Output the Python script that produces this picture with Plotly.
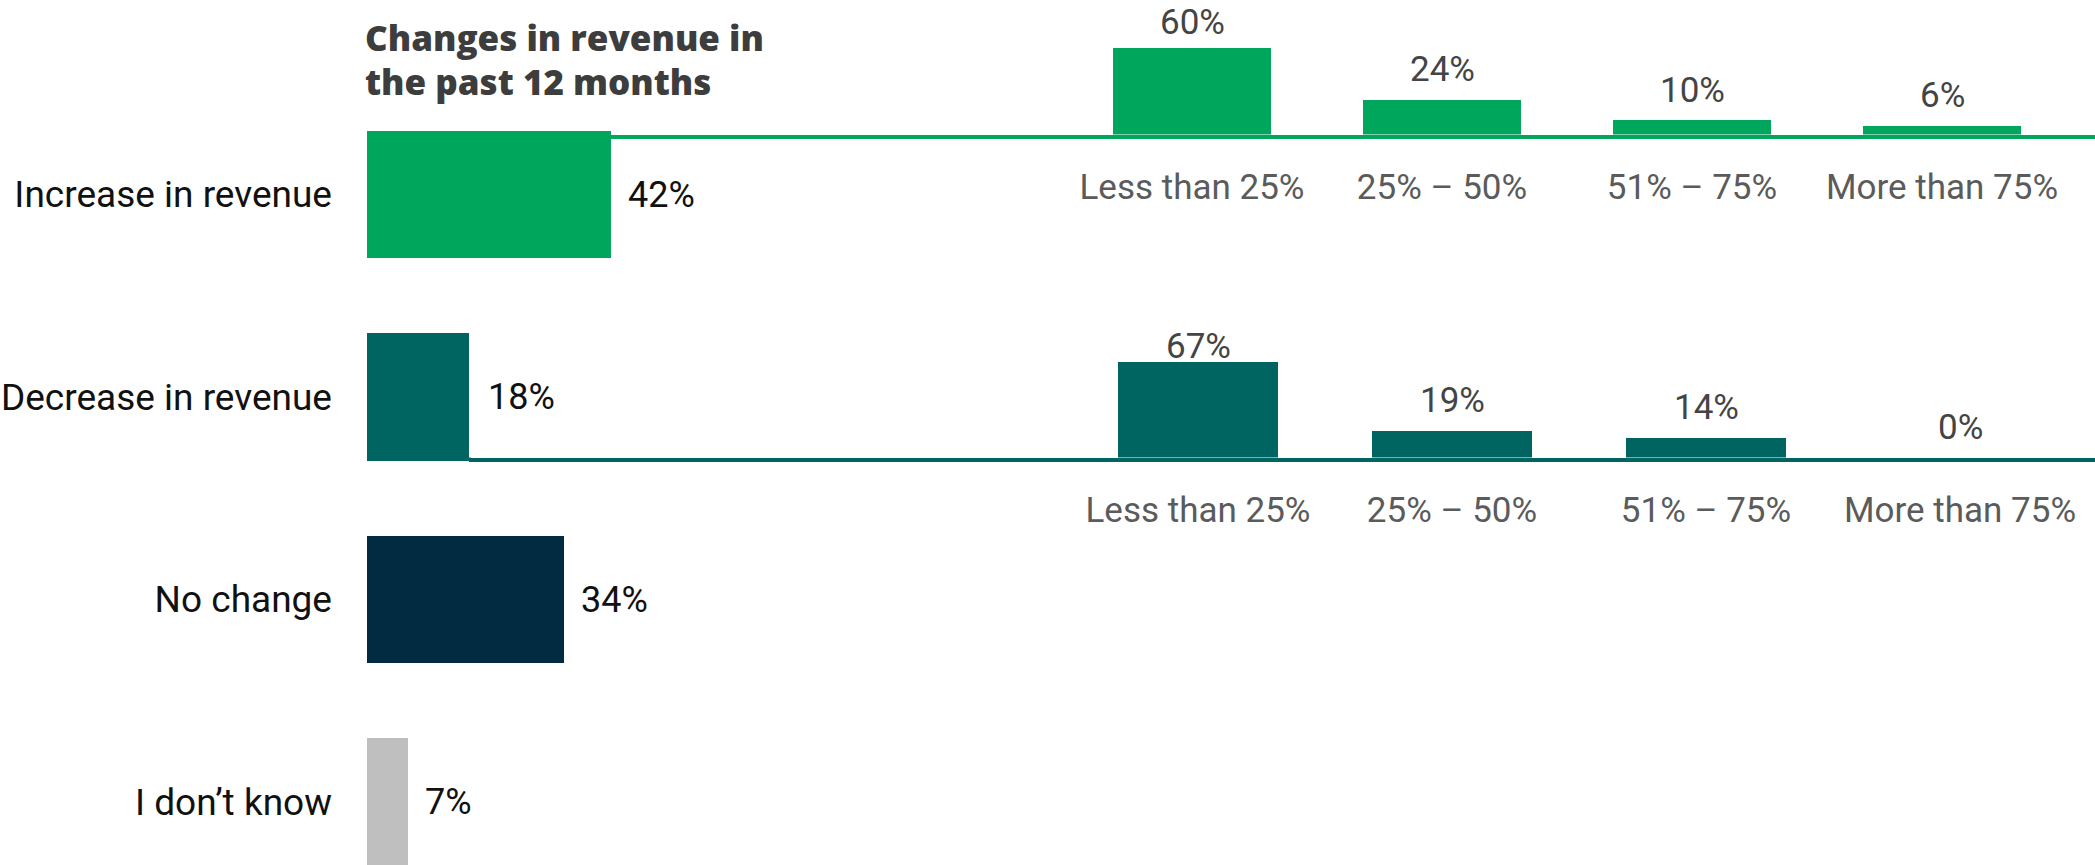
import plotly.graph_objects as go

# ---- data ----
answers = ["Increase in revenue", "Decrease in revenue", "No change", "I don\u2019t know"]
answer_pct = [42, 18, 34, 7]

size_bands = ["Less than 25%", "25% \u2013 50%", "51% \u2013 75%", "More than 75%"]
increase_pct = [60, 24, 10, 6]
decrease_pct = [67, 19, 14, 0]

title_lines = ["Changes in revenue in", "the past 12 months"]

# ---- styling ----
W, H = 2095, 865
GREEN = "#00a65b"
TEAL = "#006461"
NAVY = "#022a40"
GREY = "#bfbfbf"
bar_colors = [GREEN, TEAL, NAVY, GREY]
FONT = "Roboto, 'Open Sans', Arial, sans-serif"

# main panel geometry (pixels)
MAIN_LEFT = 367
MAIN_PX_PER_PCT = 5.8
ROW_PITCH = 202.5
FIRST_ROW = 194.5

# breakdown panels geometry (pixels)
INC_LINE_X0, INC_CENTER0, INC_PITCH, INC_BASE, INC_SCALE, INC_TOP = 611, 1192, 250, 134.5, 1.45, 0
DEC_LINE_X0, DEC_CENTER0, DEC_PITCH, DEC_BASE, DEC_SCALE, DEC_TOP = 469, 1198, 254, 457.5, 1.42, 324
LABEL_GAP = 30     # px between bar top and label centre
LABEL_HALF = 22    # keep labels inside their panel

fig = go.Figure()

# main horizontal bars
fig.add_trace(go.Bar(
    x=answer_pct, y=answers, orientation="h",
    marker=dict(color=bar_colors, line=dict(width=0)),
    width=0.632, xaxis="x", yaxis="y", hoverinfo="skip",
))
for a, v in zip(answers, answer_pct):
    fig.add_annotation(
        x=v, y=a, xref="x", yref="y", text=f"{v}%", showarrow=False,
        xanchor="left", yanchor="middle", xshift=15,
        font=dict(family=FONT, size=36, color="#111111"),
    )

# breakdown bars for increase / decrease
panels = [
    ("x2", "y2", increase_pct, GREEN, INC_SCALE, INC_BASE, INC_TOP),
    ("x3", "y3", decrease_pct, TEAL, DEC_SCALE, DEC_BASE, DEC_TOP),
]
for xa, ya, vals, col, scale, base, top in panels:
    fig.add_trace(go.Bar(
        x=size_bands, y=vals, marker=dict(color=col, line=dict(width=0)),
        width=0.632, xaxis=xa, yaxis=ya, hoverinfo="skip",
    ))
    ymax = (base - top) / scale
    for b, v in zip(size_bands, vals):
        ly = min(v + LABEL_GAP / scale, ymax - LABEL_HALF / scale)
        fig.add_annotation(
            x=b, y=ly, xref=xa, yref=ya, text=f"{v}%", showarrow=False,
            xanchor="center", yanchor="middle",
            font=dict(family=FONT, size=35, color="#444444"),
        )

# two-line heading above the main bars
for i, line in enumerate(title_lines):
    fig.add_annotation(
        x=MAIN_LEFT / W, y=1, xref="paper", yref="paper", xshift=-4, yshift=-12 - 44 * i,
        text=line, showarrow=False, xanchor="left", yanchor="top", align="left",
        font=dict(family="'Open Sans', Roboto, sans-serif", size=35, color="#3d3d3d", weight=800),
    )

hidden = dict(showgrid=False, zeroline=False, showline=False, ticks="", showticklabels=False)

fig.update_layout(
    width=W, height=H,
    margin=dict(l=0, r=0, t=0, b=0),
    paper_bgcolor="white", plot_bgcolor="white",
    showlegend=False, bargap=0,
    font=dict(family=FONT),
    xaxis=dict(domain=[MAIN_LEFT / W, 1], range=[0, (W - MAIN_LEFT) / MAIN_PX_PER_PCT],
               anchor="y", **hidden),
    yaxis=dict(domain=[0, 1], type="category", categoryorder="array", categoryarray=answers,
               range=[(H - FIRST_ROW) / ROW_PITCH, -FIRST_ROW / ROW_PITCH],
               anchor="x", showgrid=False, zeroline=False, showline=False, ticks="",
               ticklabelstandoff=34,
               tickfont=dict(family=FONT, size=37, color="#111111")),
    xaxis2=dict(domain=[INC_LINE_X0 / W, 1], type="category", anchor="y2",
                categoryorder="array", categoryarray=size_bands,
                range=[(INC_LINE_X0 - INC_CENTER0) / INC_PITCH, (W - INC_CENTER0) / INC_PITCH],
                showgrid=False, zeroline=False, showline=True, linecolor=GREEN, linewidth=3.5,
                ticks="", ticklabelstandoff=19,
                tickfont=dict(family=FONT, size=35, color="#5b5b5b")),
    yaxis2=dict(domain=[(H - INC_BASE) / H, (H - INC_TOP) / H],
                range=[0, (INC_BASE - INC_TOP) / INC_SCALE], anchor="x2", **hidden),
    xaxis3=dict(domain=[DEC_LINE_X0 / W, 1], type="category", anchor="y3",
                categoryorder="array", categoryarray=size_bands,
                range=[(DEC_LINE_X0 - DEC_CENTER0) / DEC_PITCH, (W - DEC_CENTER0) / DEC_PITCH],
                showgrid=False, zeroline=False, showline=True, linecolor=TEAL, linewidth=3.5,
                ticks="", ticklabelstandoff=19,
                tickfont=dict(family=FONT, size=35, color="#5b5b5b")),
    yaxis3=dict(domain=[(H - DEC_BASE) / H, (H - DEC_TOP) / H],
                range=[0, (DEC_BASE - DEC_TOP) / DEC_SCALE], anchor="x3", **hidden),
)

fig.write_html("out.html", config=dict(displayModeBar=False))
